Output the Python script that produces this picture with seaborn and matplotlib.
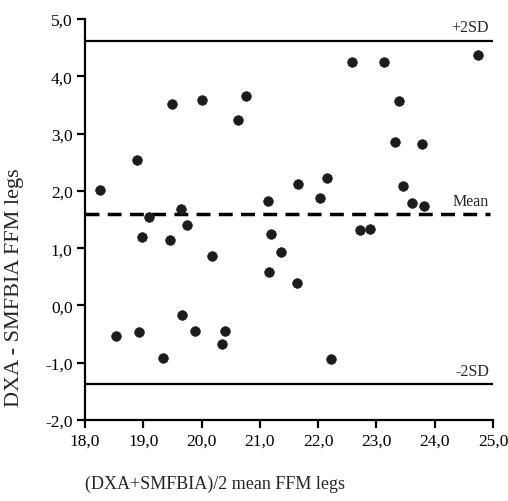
import matplotlib
matplotlib.use("Agg")
import matplotlib.pyplot as plt
import seaborn as sns
import pandas as pd
from matplotlib.ticker import FuncFormatter

# Data
mean_ffm = [18.26, 18.89, 18.97, 19.10, 19.46, 19.49, 19.65, 19.75, 20.00, 20.18,
            20.62, 20.76, 21.14, 21.19, 21.16, 21.36, 21.66, 21.63, 22.03, 22.16,
            22.22, 22.58, 22.71, 22.89, 23.13, 23.32, 23.39, 23.46, 23.61, 23.82,
            23.78, 24.74, 18.53, 18.93, 19.34, 19.67, 19.89, 20.35, 20.41]
diff_ffm = [2.02, 2.54, 1.20, 1.55, 1.14, 3.52, 1.68, 1.41, 3.59, 0.86,
            3.24, 3.66, 1.83, 1.24, 0.58, 0.93, 2.12, 0.40, 1.87, 2.23,
            -0.93, 4.25, 1.31, 1.33, 4.25, 2.85, 3.57, 2.08, 1.78, 1.73,
            2.82, 4.37, -0.54, -0.47, -0.92, -0.16, -0.44, -0.68, -0.44]
mean_line = 1.59
upper_sd = 4.62
lower_sd = -1.38
x_ticks = [18, 19, 20, 21, 22, 23, 24, 25]
y_ticks = [-2, -1, 0, 1, 2, 3, 4, 5]

df = pd.DataFrame({"x": mean_ffm, "y": diff_ffm})

sns.set_style("ticks")
plt.rcParams["font.family"] = ["Liberation Serif", "DejaVu Serif"]

fig = plt.figure(figsize=(5.08, 5.02), dpi=100)
ax = fig.add_axes([85/508, 1-421/502, (493-85)/508, (421-20)/502])

sns.scatterplot(data=df, x="x", y="y", ax=ax, color="#1c1c1c", s=48,
                edgecolor="#1c1c1c", linewidth=0.5, zorder=3)

ax.plot([18, 25], [upper_sd, upper_sd], color="black", lw=1.6, zorder=2)
ax.plot([18, 25], [lower_sd, lower_sd], color="black", lw=1.6, zorder=2)
ax.plot([18, 24.95], [mean_line, mean_line], color="black", lw=2.5,
        dashes=(4, 2.4), zorder=2)

ax.text(24.93, upper_sd + 0.17, "+2SD", ha="right", va="baseline", fontsize=11.5)
ax.text(24.93, mean_line + 0.17, "Mean", ha="right", va="baseline", fontsize=11.5)
ax.text(24.93, lower_sd + 0.17, "-2SD", ha="right", va="baseline", fontsize=11.5)

ax.set_xlim(18, 25)
ax.set_ylim(-2, 5)
ax.set_xticks(x_ticks)
ax.set_yticks(y_ticks)
fmt = FuncFormatter(lambda v, p: f"{v:.1f}".replace(".", ","))
ax.xaxis.set_major_formatter(fmt)
ax.yaxis.set_major_formatter(fmt)
ax.tick_params(axis="both", direction="out", length=6, width=1.6,
               labelsize=12.5, colors="black", pad=3)

for s in ["top", "right"]:
    ax.spines[s].set_visible(False)
for s in ["left", "bottom"]:
    ax.spines[s].set_linewidth(1.6)
    ax.spines[s].set_color("black")

ax.set_xlabel("(DXA+SMFBIA)/2 mean FFM legs", fontsize=13)
ax.xaxis.set_label_coords(0.0, (421 - 484) / 401, transform=ax.transAxes)
ax.xaxis.label.set_ha("left")
ax.xaxis.label.set_va("center")
ax.set_ylabel("DXA - SMFBIA FFM legs", fontsize=16)
ax.yaxis.set_label_coords((15 - 85) / 408, (421 - 288) / 401, transform=ax.transAxes)
ax.yaxis.label.set_va("center")

fig.savefig("out.png", dpi=100)
